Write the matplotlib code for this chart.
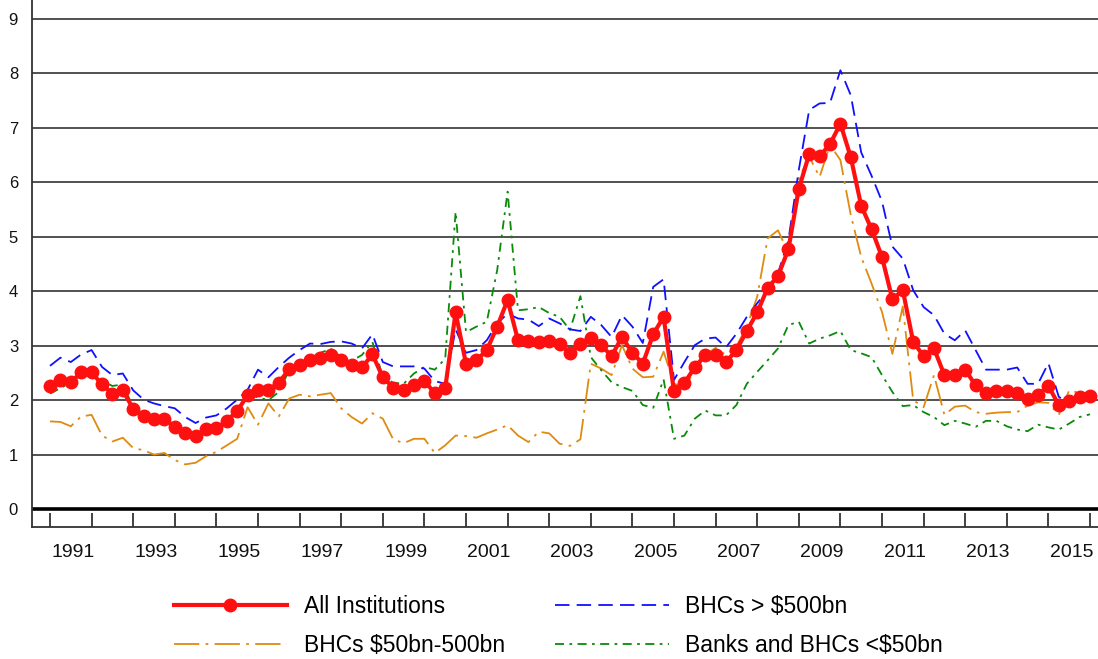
import numpy as np
import matplotlib
matplotlib.use("Agg")
import matplotlib.pyplot as plt
from matplotlib.ticker import FixedLocator, NullFormatter

plt.rcParams['font.family'] = ['Liberation Sans', 'DejaVu Sans']

start_year = 1991
year_labels = ['1991', '1993', '1995', '1997', '1999', '2001', '2003',
               '2005', '2007', '2009', '2011', '2013', '2015']

all_institutions = [
    2.26, 2.37, 2.33, 2.51, 2.51, 2.29, 2.12, 2.18, 1.84, 1.70,
    1.65, 1.65, 1.51, 1.40, 1.34, 1.47, 1.48, 1.62, 1.80, 2.09,
    2.19, 2.19, 2.32, 2.57, 2.65, 2.74, 2.78, 2.83, 2.74, 2.65,
    2.60, 2.84, 2.42, 2.23, 2.19, 2.27, 2.35, 2.13, 2.22, 3.61,
    2.67, 2.73, 2.92, 3.35, 3.84, 3.10, 3.09, 3.07, 3.09, 3.04,
    2.86, 3.04, 3.15, 3.01, 2.81, 3.16, 2.87, 2.67, 3.21, 3.53,
    2.16, 2.32, 2.60, 2.83, 2.83, 2.70, 2.92, 3.27, 3.61, 4.06,
    4.28, 4.77, 5.88, 6.52, 6.48, 6.70, 7.08, 6.46, 5.57, 5.14,
    4.63, 3.85, 4.02, 3.07, 2.81, 2.95, 2.46, 2.46, 2.56, 2.27,
    2.13, 2.16, 2.16, 2.14, 2.02, 2.10, 2.26, 1.91, 1.99, 2.05,
    2.08]

bhc_large = [
    2.63, 2.78, 2.70, 2.84, 2.92, 2.61, 2.46, 2.49, 2.18, 2.01,
    1.94, 1.89, 1.85, 1.69, 1.58, 1.68, 1.72, 1.85, 2.01, 2.19,
    2.56, 2.42, 2.61, 2.78, 2.92, 3.04, 3.03, 3.07, 3.08, 3.04,
    2.95, 3.21, 2.70, 2.62, 2.62, 2.62, 2.58, 2.35, 2.30, 3.30,
    2.87, 2.92, 3.10, 3.41, 3.59, 3.50, 3.48, 3.36, 3.50, 3.41,
    3.30, 3.27, 3.53, 3.38, 3.16, 3.56, 3.35, 3.05, 4.08, 4.22,
    2.37, 2.70, 3.01, 3.13, 3.15, 2.97, 3.22, 3.53, 3.78, 4.02,
    4.33, 4.94, 6.23, 7.33, 7.45, 7.46, 8.06, 7.60, 6.55, 6.12,
    5.65, 4.82, 4.60, 4.02, 3.71, 3.56, 3.22, 3.10, 3.28, 2.92,
    2.56, 2.56, 2.56, 2.60, 2.30, 2.30, 2.68, 2.06, 1.95, 2.03,
    2.12]

bhc_mid = [
    1.61, 1.60, 1.52, 1.70, 1.73, 1.35, 1.24, 1.31, 1.12, 1.08,
    1.00, 1.03, 0.90, 0.82, 0.85, 0.97, 1.05, 1.17, 1.29, 1.87,
    1.55, 1.94, 1.70, 2.03, 2.10, 2.07, 2.10, 2.13, 1.85, 1.69,
    1.57, 1.76, 1.66, 1.28, 1.21, 1.29, 1.29, 1.03, 1.17, 1.35,
    1.34, 1.31, 1.39, 1.46, 1.54, 1.35, 1.23, 1.42, 1.39, 1.20,
    1.16, 1.28, 2.67, 2.58, 2.46, 3.01, 2.58, 2.42, 2.43, 2.89,
    2.30, 2.25, 2.52, 2.83, 2.96, 2.83, 2.99, 3.35, 3.90, 4.97,
    5.12, 4.70, 6.07, 6.47, 6.10, 6.69, 6.41, 5.40, 4.63, 4.14,
    3.62, 2.85, 3.72, 2.00, 1.87, 2.46, 1.73, 1.88, 1.90, 1.78,
    1.75, 1.77, 1.78, 1.78, 1.90, 1.96, 1.95, 1.73, 2.18, 2.13,
    2.13]

banks_small = [
    2.12, 2.22, 2.32, 2.49, 2.46, 2.36, 2.26, 2.29, 1.87, 1.68,
    1.62, 1.62, 1.46, 1.36, 1.39, 1.42, 1.46, 1.60, 1.80, 2.10,
    2.05, 2.00, 2.15, 2.55, 2.67, 2.76, 2.87, 2.94, 2.79, 2.72,
    2.83, 3.07, 2.43, 2.32, 2.30, 2.49, 2.61, 2.56, 2.76, 5.46,
    3.25, 3.35, 3.44, 4.39, 5.83, 3.65, 3.67, 3.71, 3.60, 3.53,
    3.29, 3.91, 2.79, 2.55, 2.33, 2.24, 2.17, 1.91, 1.86, 2.38,
    1.29, 1.35, 1.66, 1.81, 1.72, 1.72, 1.91, 2.30, 2.52, 2.73,
    2.95, 3.38, 3.44, 3.04, 3.13, 3.19, 3.27, 2.92, 2.86, 2.79,
    2.46, 2.15, 1.89, 1.91, 1.78, 1.69, 1.54, 1.62, 1.57, 1.51,
    1.62, 1.62, 1.52, 1.46, 1.43, 1.55, 1.50, 1.46, 1.57, 1.69,
    1.74]

x = start_year + np.arange(len(all_institutions)) / 4.0

W, H = 1098, 659
fig = plt.figure(figsize=(W / 100, H / 100), dpi=100)
ax = fig.add_axes([32 / W, 132 / H, 1 - 32 / W, 1 - 132 / H])

grid_color = '#222222'
for v in range(1, 10):
    ax.axhline(v, color=grid_color, lw=1.1, zorder=1)
ax.axhline(0, color='black', lw=2.6, zorder=1)

l_red, = ax.plot(x, all_institutions, color='#ff1010', lw=3.0, marker='o',
                 markersize=9, zorder=5, label='All Institutions')
l_blue, = ax.plot(x, bhc_large, color='#1010ff', lw=1.3, dashes=(8, 4),
                  zorder=4, label='BHCs > $500bn')
l_orange, = ax.plot(x, bhc_mid, color='#e08a10', lw=1.3,
                    dashes=(14, 3.5, 1.5, 3.5), zorder=3,
                    label='BHCs $50bn-500bn')
l_green, = ax.plot(x, banks_small, color='#0a8a0a', lw=1.3,
                   dashes=(5, 3, 1.5, 3), zorder=3,
                   label='Banks and BHCs <$50bn')

x_left = start_year - 18 / 41.6
x_right = start_year + (W - 50) / 41.6
ax.set_xlim(x_left, x_right)
ax.set_ylim(-0.33, 9.35)

ax.set_yticks(range(0, 10))
ax.tick_params(axis='y', length=0, pad=10, labelsize=12, labelcolor='#111111')

year_ticks = np.arange(start_year, start_year + 26)
ax.xaxis.set_major_locator(FixedLocator(year_ticks))
ax.xaxis.set_major_formatter(NullFormatter())
label_pos = [int(lbl) + 0.55 for lbl in year_labels]
ax.set_xticks(label_pos, minor=True)
ax.set_xticklabels(year_labels, minor=True)
ax.tick_params(axis='x', which='major', direction='in', length=10,
               width=1.3, color='#333333')
ax.tick_params(axis='x', which='minor', length=0, pad=12, labelsize=14,
               labelcolor='#111111')

for s in ['top', 'right']:
    ax.spines[s].set_visible(False)
ax.spines['left'].set_color('#333333')
ax.spines['left'].set_linewidth(1.3)
ax.spines['bottom'].set_color('#333333')
ax.spines['bottom'].set_linewidth(1.3)

leg = fig.legend(handles=[l_red, l_orange, l_blue, l_green], ncol=2,
                 loc='upper left', bbox_to_anchor=(153 / W, 1 - 574 / H),
                 frameon=False, fontsize=16.5, handlelength=4.95,
                 handletextpad=0.72, columnspacing=2.2, labelspacing=0.72)

fig.savefig('out.png', dpi=100)
